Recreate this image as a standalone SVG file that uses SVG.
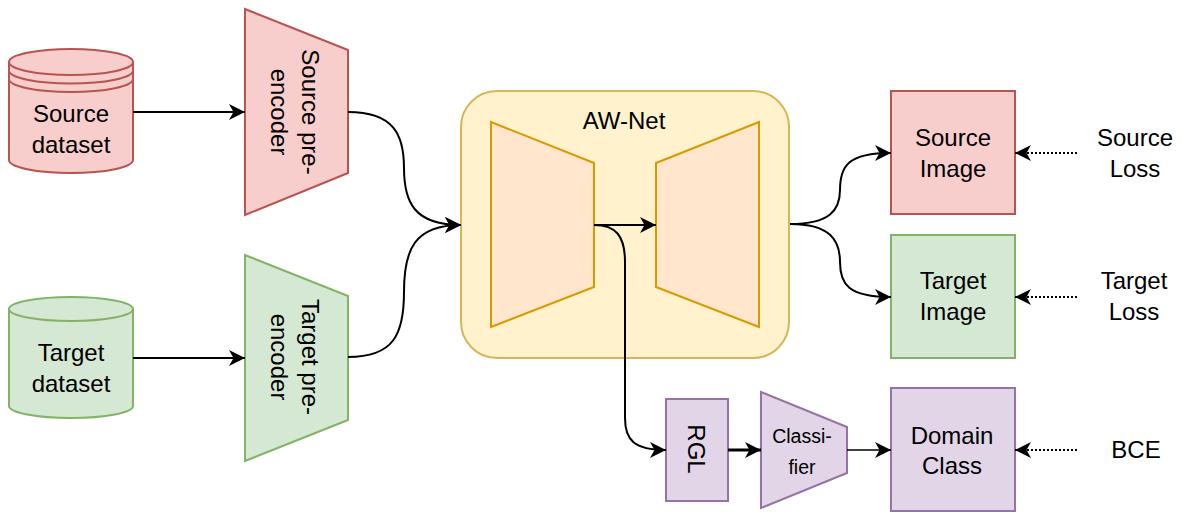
<svg xmlns="http://www.w3.org/2000/svg" width="1181" height="512" viewBox="0 0 1181 512">
<style>
text{font-family:"Liberation Sans",Arial,Helvetica,sans-serif;font-size:24px;fill:#000;text-anchor:middle}
.red{fill:#f8cecc;stroke:#b85450;stroke-width:2}
.green{fill:#d5e8d4;stroke:#82b366;stroke-width:2}
.yellow{fill:#fff2cc;stroke:#d6b656;stroke-width:2}
.orange{fill:#ffe6cc;stroke:#d79b00;stroke-width:2}
.purple{fill:#e1d5e7;stroke:#9673a6;stroke-width:2}
.line{fill:none;stroke:#000;stroke-width:2;marker-end:url(#arr)}
.dot{fill:none;stroke:#000;stroke-width:2;stroke-dasharray:2 2;marker-end:url(#arr)}
.small{font-size:19.5px}
</style>
<defs>
<marker id="arr" markerUnits="userSpaceOnUse" markerWidth="18" markerHeight="18" refX="16" refY="8" orient="auto">
<path d="M0,0 L16,8 L0,16 L4.5,8 Z" fill="#000"/>
</marker>
</defs>

<g id="source-dataset">
<path class="red" d="M9,62 A62,13 0 0 1 133,62 L133,160 A62,13 0 0 1 9,160 Z"/>
<path class="red" fill="none" d="M9,62 A62,13 0 0 0 133,62 M9,70.5 A62,13 0 0 0 133,70.5 M9,79 A62,13 0 0 0 133,79"/>
<text x="71" y="122">Source</text>
<text x="71" y="153">dataset</text>
</g>

<g id="target-dataset">
<path class="green" d="M9,309 A62,12 0 0 1 133,309 L133,406 A62,12 0 0 1 9,406 Z"/>
<path class="green" fill="none" d="M9,309 A62,12 0 0 0 133,309"/>
<text x="71" y="361">Target</text>
<text x="71" y="392">dataset</text>
</g>

<g id="source-pre-encoder">
<polygon class="red" points="245,9 348,50 348,173 245,215"/>
<text transform="translate(296,112) rotate(90)"><tspan x="0" y="-6">Source pre-</tspan><tspan x="0" y="25">encoder</tspan></text>
</g>

<g id="target-pre-encoder">
<polygon class="green" points="245,255 348,296 348,420 245,461"/>
<text transform="translate(296,357) rotate(90)"><tspan x="0" y="-6">Target pre-</tspan><tspan x="0" y="25">encoder</tspan></text>
</g>

<g id="aw-net">
<rect class="yellow" x="461" y="91" width="328" height="267" rx="36" ry="36"/>
<text x="624" y="129">AW-Net</text>
<polygon id="encoder" class="orange" points="491,122 594,163 594,287 491,327"/>
<polygon id="decoder" class="orange" points="656,163 759,122 759,327 656,287"/>
</g>

<g id="source-image">
<rect class="red" x="891" y="91" width="124" height="123"/>
<text x="953" y="146">Source</text>
<text x="953" y="177">Image</text>
</g>

<g id="target-image">
<rect class="green" x="891" y="235" width="124" height="123"/>
<text x="953" y="289">Target</text>
<text x="953" y="320">Image</text>
</g>

<g id="rgl">
<rect class="purple" x="666" y="399" width="62" height="102"/>
<text transform="translate(688,449) rotate(90)" x="0" y="0">RGL</text>
</g>

<g id="classifier">
<polygon class="purple" points="761,392 847,427 847,473 761,508"/>
<text class="small" x="802" y="443">Classi-</text>
<text class="small" x="802" y="474">fier</text>
</g>

<g id="domain-class">
<rect class="purple" x="891" y="388" width="124" height="123"/>
<text x="952" y="444">Domain</text>
<text x="952" y="474">Class</text>
</g>

<g id="source-loss"><text x="1135" y="146">Source</text><text x="1135" y="177">Loss</text></g>
<g id="target-loss"><text x="1134" y="289">Target</text><text x="1134" y="320">Loss</text></g>
<g id="bce"><text x="1136" y="458">BCE</text></g>

<g id="connectors">
<path class="line" d="M133,112 L245,112"/>
<path class="line" d="M133,358 L245,358"/>
<path class="line" d="M348,112 C394,112 404,135 404,168 C404,202 414,225 461,225"/>
<path class="line" d="M348,357 C394,357 404,334 404,292 C404,250 414,225 461,225"/>
<path class="line" d="M594,225 L656,225"/>
<path class="line" d="M594,225 C616,225 625,236 625,262 L625,418 C625,440 634,450 666,450"/>
<path class="line" d="M790,224 C830,224 840,210 840,190 C840,166 848,153 891,153"/>
<path class="line" d="M790,224 C830,224 840,240 840,262 C840,284 848,297 891,297"/>
<path class="line" style="stroke-width:3" d="M728,450 L761,450"/>
<path class="line" style="stroke-width:1.5" d="M847,450 L891,450"/>
<path class="dot" d="M1077,153 L1015,153"/>
<path class="dot" d="M1077,297 L1015,297"/>
<path class="dot" d="M1077,450 L1015,450"/>
</g>
</svg>
